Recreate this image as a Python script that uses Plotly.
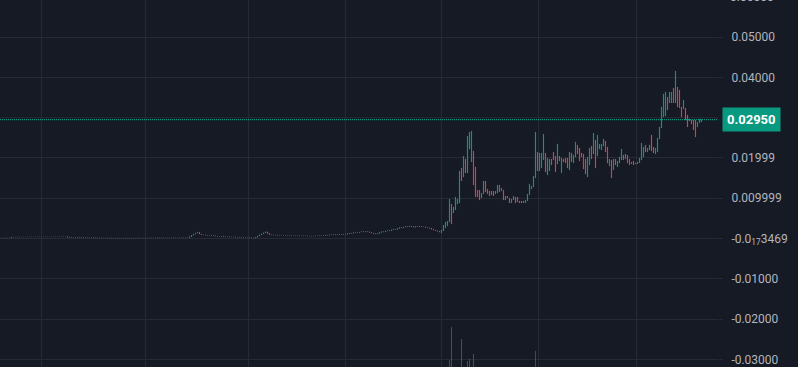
import plotly.graph_objects as go

# ---------------- data ----------------
# quiet period: closes only (each candle opens at the previous close)
flat_closes = [
    0.00010, 0.00011, 0.00012, 0.00013, 0.00014,
    0.00033, 0.00034, 0.00035, 0.00036, 0.00037, 0.00037, 0.00038, 0.00038, 0.00039, 0.00039,
    0.00040, 0.00040, 0.00041, 0.00041, 0.00042, 0.00042, 0.00043, 0.00043, 0.00044, 0.00044,
    0.00045, 0.00045, 0.00046, 0.00046, 0.00047, 0.00047, 0.00048, 0.00048,
    0.00030, 0.00038, 0.00032, 0.00028, 0.00022, 0.00030, 0.00035, 0.00028, 0.00025, 0.00022,
    0.00020, 0.00024, 0.00026, 0.00021, 0.00018, 0.00016, 0.00015,
    0.00014, 0.00013, 0.00012, 0.00011, 0.00012, 0.00010, 0.00009, 0.00008, 0.00010, 0.00009,
    0.00008, 0.00007, 0.00009, 0.00008, 0.00007,
    0.00008, 0.00009, 0.00010, 0.00011, 0.00012, 0.00012, 0.00013, 0.00011, 0.00013, 0.00014,
    0.00015, 0.00015, 0.00016, 0.00014, 0.00016, 0.00017, 0.00018, 0.00018, 0.00019, 0.00020,
    0.00018, 0.00020, 0.00021, 0.00022, 0.00022, 0.00023, 0.00021, 0.00023, 0.00024,
    0.00045, 0.00080, 0.00110, 0.00135, 0.00155, 0.00110, 0.00092,
    0.00090, 0.00084, 0.00078, 0.00082, 0.00074, 0.00066, 0.00058,
    0.00052, 0.00048, 0.00055, 0.00046, 0.00040, 0.00044, 0.00038, 0.00035, 0.00040, 0.00033,
    0.00030, 0.00034, 0.00028, 0.00025, 0.00022, 0.00024, 0.00018, 0.00014, 0.00010,
    0.00030, 0.00060, 0.00090, 0.00115, 0.00140, 0.00165, 0.00125, 0.00095,
    0.00090, 0.00085, 0.00088, 0.00082, 0.00078, 0.00080, 0.00076, 0.00072, 0.00075, 0.00070,
    0.00068, 0.00066, 0.00070, 0.00066, 0.00064, 0.00062, 0.00066, 0.00063, 0.00060, 0.00058,
    0.00062, 0.00060, 0.00064, 0.00068, 0.00065, 0.00070,
    0.00075, 0.00085, 0.00080, 0.00090, 0.00095, 0.00088, 0.00098, 0.00105, 0.00095, 0.00100,
    0.00110, 0.00105,
    0.00120, 0.00135, 0.00128, 0.00145, 0.00155, 0.00148, 0.00160, 0.00170, 0.00162, 0.00175,
    0.00168,
    0.00150, 0.00135, 0.00120, 0.00110, 0.00125,
    0.00150, 0.00170, 0.00160, 0.00185, 0.00200, 0.00190, 0.00215, 0.00235, 0.00225, 0.00250,
    0.00270, 0.00260,
    0.00285, 0.00300, 0.00290, 0.00310, 0.00295, 0.00280, 0.00300, 0.00310, 0.00295, 0.00285,
    0.00290, 0.00275, 0.00265, 0.00255,
    0.00230, 0.00210, 0.00195, 0.00180, 0.00160,
]
flat_first_open = 0.00010

# active period: explicit open / close per candle
act_opens = [
    0.00136, 0.00186, 0.00261, 0.00310, 0.00409, 0.00856, 0.00633, 0.00707, 0.00856, 0.00881,
    0.01749, 0.01526, 0.01973, 0.01625, 0.02221, 0.01898, 0.02171, 0.01774, 0.01203, 0.01203,
    0.01005, 0.01104, 0.01427, 0.01228, 0.01179, 0.01079, 0.01179, 0.01104, 0.01129, 0.01328,
    0.01179, 0.01203, 0.00955, 0.01055, 0.01005, 0.00881, 0.00955, 0.01030, 0.01030, 0.00931,
    0.00881, 0.00931, 0.00881, 0.00931, 0.01079, 0.01228, 0.01278, 0.01501, 0.02146, 0.01675,
    0.01749, 0.01948, 0.02122, 0.01576, 0.01675, 0.01973, 0.02146, 0.02047, 0.01849, 0.02047,
    0.01625, 0.01973, 0.01998, 0.01998, 0.01700, 0.02122, 0.01873, 0.02022, 0.02320, 0.02246,
    0.02122, 0.02097, 0.01973, 0.01526, 0.01824, 0.02295, 0.02097, 0.02444, 0.02047, 0.02221,
    0.02196, 0.02295, 0.02419, 0.02270, 0.01799, 0.01948, 0.01700, 0.01973, 0.01774, 0.01873,
    0.01948, 0.02072, 0.01973, 0.02072, 0.01973, 0.01849, 0.01923, 0.01873, 0.01849, 0.01873,
    0.01948, 0.02022, 0.02320, 0.02146, 0.02196, 0.02568, 0.02270, 0.02097, 0.02146, 0.02469,
    0.02742, 0.03015, 0.03040, 0.03511, 0.03362, 0.03362, 0.03735, 0.03362, 0.03759, 0.03685,
    0.03263, 0.03213, 0.03238, 0.03065, 0.02965, 0.02940, 0.02940, 0.02940, 0.02767, 0.02866,
    0.02891,
]
act_closes = [
    0.00211, 0.00335, 0.00409, 0.00434, 0.00980, 0.00360, 0.00782, 0.01030, 0.00980, 0.01675,
    0.01427, 0.02047, 0.01625, 0.02543, 0.02643, 0.02667, 0.01328, 0.01030, 0.01030, 0.00955,
    0.01129, 0.01427, 0.01154, 0.01104, 0.01055, 0.01179, 0.01055, 0.01179, 0.01328, 0.01154,
    0.01253, 0.00955, 0.01055, 0.01005, 0.00881, 0.00980, 0.01055, 0.00881, 0.00906, 0.00881,
    0.00931, 0.00881, 0.00955, 0.01104, 0.01352, 0.01303, 0.01551, 0.02643, 0.01675, 0.02122,
    0.02122, 0.02593, 0.01650, 0.01998, 0.01973, 0.01824, 0.01948, 0.01650, 0.02345, 0.01923,
    0.01998, 0.01898, 0.01873, 0.01749, 0.02146, 0.01898, 0.02072, 0.02395, 0.02097, 0.01923,
    0.02022, 0.01725, 0.01600, 0.02022, 0.02246, 0.01973, 0.02618, 0.01749, 0.02568, 0.02345,
    0.02345, 0.02469, 0.02146, 0.01873, 0.01973, 0.01501, 0.01973, 0.01824, 0.01923, 0.02022,
    0.02221, 0.01948, 0.02097, 0.01873, 0.01824, 0.01898, 0.01824, 0.01849, 0.01898, 0.01998,
    0.02370, 0.02270, 0.02146, 0.02246, 0.02320, 0.02171, 0.02122, 0.02246, 0.02494, 0.02767,
    0.03263, 0.03586, 0.03635, 0.03189, 0.03635, 0.03635, 0.03362, 0.04156, 0.03263, 0.03238,
    0.03015, 0.03437, 0.02940, 0.02767, 0.02916, 0.02841, 0.02692, 0.02519, 0.02891, 0.02965,
    0.02950,
]

# volume (only the spikes that reach into view)
volume_idx = [224, 225, 230, 233, 234, 236, 267]
volume_val = [1.9, 10.9, 7.6, 1.6, 2.2, 3.5, 4.4]
volume_up = [True, False, False, True, True, False, True]

last_price = 0.02950
last_price_text = "0.02950"

price_ticks = [-0.03, -0.02, -0.01, 0.0, 0.01, 0.02, 0.04, 0.05]
price_ticktext = ["-0.03000", "-0.02000", "-0.01000", "-0.0<sub>17</sub>3469",
                  "0.009999", "0.01999", "0.04000", "0.05000"]
hidden_grid_level = 0.03          # gridline whose label is covered by the price tag
top_tick_text = "0.06000"

day_breaks = [20, 72, 123.5, 172, 220, 268.5, 317.5]

# ---------------- build ----------------
opens = [flat_first_open] + flat_closes[:-1] + act_opens
closes = flat_closes + act_closes
highs = [max(o, c) for o, c in zip(opens, closes)]
lows = [min(o, c) for o, c in zip(opens, closes)]
idx = list(range(len(closes)))

UP = "#089981"
DOWN = "#f23645"
BG = "#161a25"
GRID = "#262a35"
TXT = "#b2b5be"

vol = [0.0] * len(closes)
vcol = ["rgba(0,0,0,0)"] * len(closes)
for k, v, up in zip(volume_idx, volume_val, volume_up):
    vol[k] = v
    vcol[k] = "rgba(8,153,129,0.6)" if up else "rgba(242,54,69,0.6)"

fig = go.Figure()
fig.add_trace(go.Bar(x=idx, y=vol, marker=dict(color=vcol, line=dict(width=0)),
                     width=0.5, yaxis="y2", hoverinfo="skip", showlegend=False))
fig.add_trace(go.Candlestick(
    x=idx, open=opens, high=highs, low=lows, close=closes,
    increasing=dict(line=dict(color=UP, width=1), fillcolor=UP),
    decreasing=dict(line=dict(color=DOWN, width=1), fillcolor=DOWN),
    whiskerwidth=0, showlegend=False,
))

y_lo, y_hi = -0.031886, 0.059181
fig.update_layout(
    width=798, height=367,
    margin=dict(l=0, r=80, t=0, b=0),
    paper_bgcolor=BG, plot_bgcolor=BG,
    font=dict(family="Roboto, sans-serif", color=TXT, size=12),
    boxgap=0.9,
    xaxis=dict(range=[-0.75, 358.25], rangeslider=dict(visible=False),
               tickvals=day_breaks, showticklabels=False, ticks="",
               showgrid=True, gridcolor=GRID, gridwidth=1, zeroline=False, showline=False),
    yaxis=dict(side="right", range=[y_lo, y_hi], tickvals=price_ticks, ticktext=price_ticktext,
               showgrid=True, gridcolor=GRID, gridwidth=1, zeroline=False, showline=False,
               ticks="outside", ticklen=4, tickcolor=GRID, ticklabelstandoff=6,
               tickfont=dict(size=12, color=TXT)),
    yaxis2=dict(overlaying="y", range=[0, 100], visible=False),
    bargap=0,
    hovermode=False,
)

fig.add_shape(type="line", xref="paper", x0=0, x1=1, yref="y",
              y0=hidden_grid_level, y1=hidden_grid_level,
              line=dict(color=GRID, width=1), layer="below")
fig.add_shape(type="line", xref="paper", x0=0, x1=1, yref="y", y0=last_price, y1=last_price,
              line=dict(color=UP, width=1.3, dash="1px,1px"))
fig.add_annotation(xref="paper", x=1, xanchor="left", xshift=4, yref="y", y=last_price,
                   text="<b>" + last_price_text + "</b>", showarrow=False,
                   bgcolor=UP, borderpad=4, font=dict(color="#ffffff", size=13))
fig.add_annotation(xref="paper", x=1, xanchor="left", xshift=10, yref="paper", y=1.009,
                   yanchor="middle", text=top_tick_text, showarrow=False,
                   font=dict(color=TXT, size=12))

fig.write_html("out.html")
